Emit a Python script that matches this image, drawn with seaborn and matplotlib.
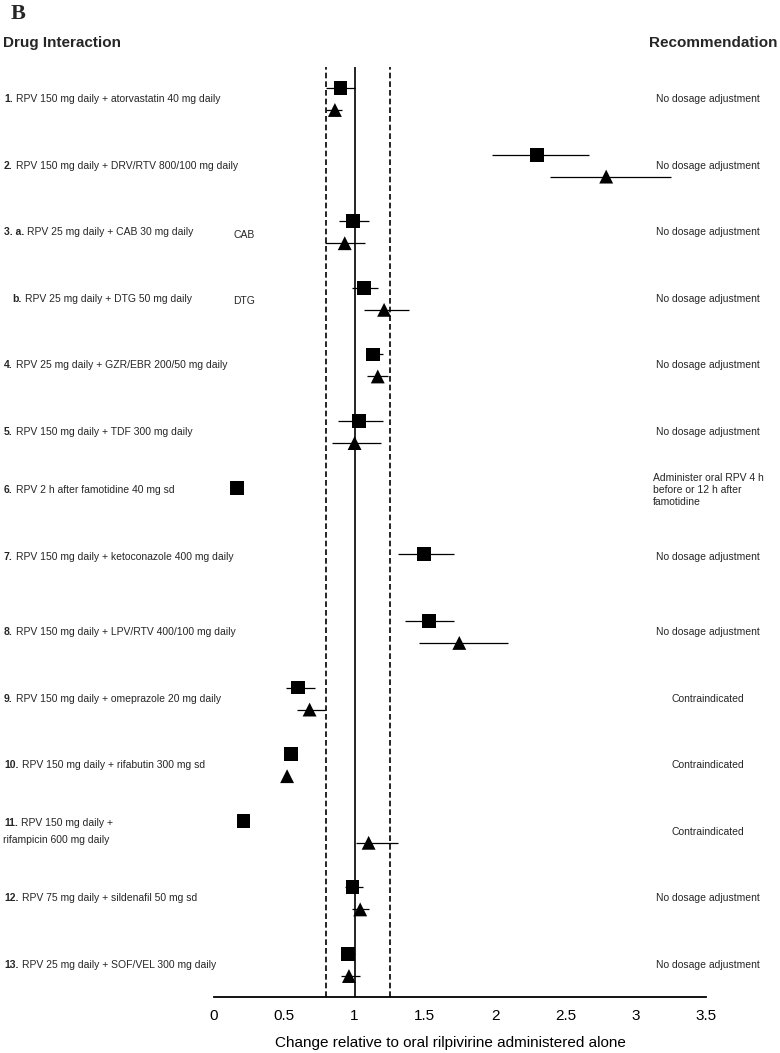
import matplotlib.pyplot as plt
import matplotlib.transforms as mtransforms
import numpy as np
import pandas as pd
import seaborn as sns

nan = np.nan

# one entry per row of the forest plot, top to bottom
numbers = ["1.", "2.", "3. a.", "b.", "4.", "5.", "6.", "7.", "8.", "9.",
           "10.", "11.", "12.", "13."]
interactions = [
    "RPV 150 mg daily + atorvastatin 40 mg daily",
    "RPV 150 mg daily + DRV/RTV 800/100 mg daily",
    "RPV 25 mg daily + CAB 30 mg daily",
    "RPV 25 mg daily + DTG 50 mg daily",
    "RPV 25 mg daily + GZR/EBR 200/50 mg daily",
    "RPV 150 mg daily + TDF 300 mg daily",
    "RPV 2 h after famotidine 40 mg sd",
    "RPV 150 mg daily + ketoconazole 400 mg daily",
    "RPV 150 mg daily + LPV/RTV 400/100 mg daily",
    "RPV 150 mg daily + omeprazole 20 mg daily",
    "RPV 150 mg daily + rifabutin 300 mg sd",
    "RPV 150 mg daily +\nrifampicin 600 mg daily",
    "RPV 75 mg daily + sildenafil 50 mg sd",
    "RPV 25 mg daily + SOF/VEL 300 mg daily",
]
side_tags = ["", "", "CAB", "DTG", "", "", "", "", "", "", "", "", "", ""]
recommendations = [
    "No dosage adjustment",
    "No dosage adjustment",
    "No dosage adjustment",
    "No dosage adjustment",
    "No dosage adjustment",
    "No dosage adjustment",
    "Administer oral RPV 4 h\nbefore or 12 h after\nfamotidine",
    "No dosage adjustment",
    "No dosage adjustment",
    "Contraindicated",
    "Contraindicated",
    "Contraindicated",
    "No dosage adjustment",
    "No dosage adjustment",
]

# geometric mean ratios with 90% CI (square and triangle series)
square_ratio = [0.90, 2.30, 0.99, 1.065, 1.13, 1.03, 0.165, 1.495, 1.53, 0.60,
                0.55, 0.21, 0.985, 0.955]
square_low = [0.80, 1.98, 0.89, 0.98, 1.08, 0.88, nan, 1.31, 1.36, 0.51,
              0.50, nan, 0.93, 0.91]
square_high = [1.00, 2.67, 1.10, 1.17, 1.20, 1.20, nan, 1.71, 1.71, 0.72,
               0.57, nan, 1.06, 1.00]
triangle_ratio = [0.86, 2.79, 0.93, 1.21, 1.165, 1.00, nan, nan, 1.745, 0.68,
                  0.52, 1.10, 1.04, 0.96]
triangle_low = [0.80, 2.39, 0.79, 1.07, 1.09, 0.84, nan, nan, 1.46, 0.59,
                nan, 1.01, 0.98, 0.90]
triangle_high = [0.91, 3.25, 1.075, 1.39, 1.24, 1.19, nan, nan, 2.09, 0.79,
                 nan, 1.31, 1.10, 1.04]

x_ticks = [0, 0.5, 1, 1.5, 2, 2.5, 3, 3.5]
tick_labels = ["0", "0.5", "1", "1.5", "2", "2.5", "3", "3.5"]
no_effect = 1.0
bounds = [0.8, 1.25]

sns.set_theme(style="white")
plt.rcParams["font.family"] = ["Liberation Sans", "DejaVu Sans"]

n = len(numbers)
rows = np.arange(n)
df = pd.DataFrame({
    "row": np.tile(rows, 2),
    "param": ["square"] * n + ["triangle"] * n,
    "ratio": square_ratio + triangle_ratio,
    "low": square_low + triangle_low,
    "high": square_high + triangle_high,
})
df["y"] = df["row"] + np.where(df["param"] == "square", -0.165, 0.165)
df = df.dropna(subset=["ratio"])

W, H = 780, 1053
fig = plt.figure(figsize=(W / 100, H / 100), dpi=100)
ax = fig.add_axes([214 / W, 1 - 997 / H, (706 - 214) / W, (997 - 67) / H])

# reference lines
ax.axvline(no_effect, color="black", lw=1.2, zorder=1)
for b in bounds:
    ax.axvline(b, color="black", lw=1.2, ls=(0, (3.4, 1.8)), zorder=1)

# confidence intervals
ci = df.dropna(subset=["low", "high"])
ax.hlines(ci["y"], ci["low"], ci["high"], color="black", lw=0.9, zorder=2)

sns.scatterplot(data=df, x="ratio", y="y", style="param",
                markers={"square": "s", "triangle": "^"},
                color="black", s=100, linewidth=0, legend=False,
                ax=ax, zorder=3)

ax.set_xlim(0, 3.5)
ax.set_ylim(13.48, -0.48)
ax.set_yticks([])
ax.set_ylabel("")
ax.set_xticks(x_ticks)
ax.set_xticklabels(tick_labels, fontsize=11)
ax.tick_params(axis="x", length=0, pad=9, colors="black")
for side in ["left", "right", "top"]:
    ax.spines[side].set_visible(False)
ax.spines["bottom"].set_color("black")
ax.spines["bottom"].set_linewidth(1.3)
ax.set_xlabel("Change relative to oral rilpivirine administered alone",
              fontsize=11, labelpad=9, x=0.48, color="black")

# left labels and right recommendations
blend = mtransforms.blended_transform_factory(fig.transFigure, ax.transData)
has_triangle = ~np.isnan(np.array(triangle_ratio))
for i in rows:
    y = i if has_triangle[i] else i - 0.13
    x0 = 12.7 if numbers[i] == "b." else 4
    lines = interactions[i].split("\n")
    if len(lines) > 1:
        y_first = y - 0.128
    else:
        y_first = y
    num = ax.text(x0 / W, y_first, numbers[i], transform=blend,
                  fontsize=7.5, fontweight="bold", va="center", ha="left")
    ax.annotate(lines[0], xy=(1, 0), xycoords=num, xytext=(2.2, 0),
                textcoords="offset points", fontsize=7.5, va="bottom",
                ha="left")
    if len(lines) > 1:
        ax.text(3.3 / W, y + 0.128, lines[1], transform=blend,
                fontsize=7.5, va="center", ha="left")
    if side_tags[i]:
        ax.text(233 / W, y + 0.04, side_tags[i], transform=blend,
                fontsize=7.5, va="center", ha="left")
    ax.text(708 / W, y, recommendations[i], transform=blend, fontsize=7.5,
            va="center", ha="center", multialignment="left",
            linespacing=1.3)

fig.text(3 / W, 1 - 43 / H, "Drug Interaction", fontsize=11,
         fontweight="bold", va="center", ha="left")
fig.text(777 / W, 1 - 43 / H, "Recommendation", fontsize=11,
         fontweight="bold", va="center", ha="right")
fig.text(11 / W, 1 - 14 / H, "B", fontsize=16, fontweight="bold",
         family="Liberation Serif", va="center", ha="left")

fig.savefig("out.png", dpi=100)
